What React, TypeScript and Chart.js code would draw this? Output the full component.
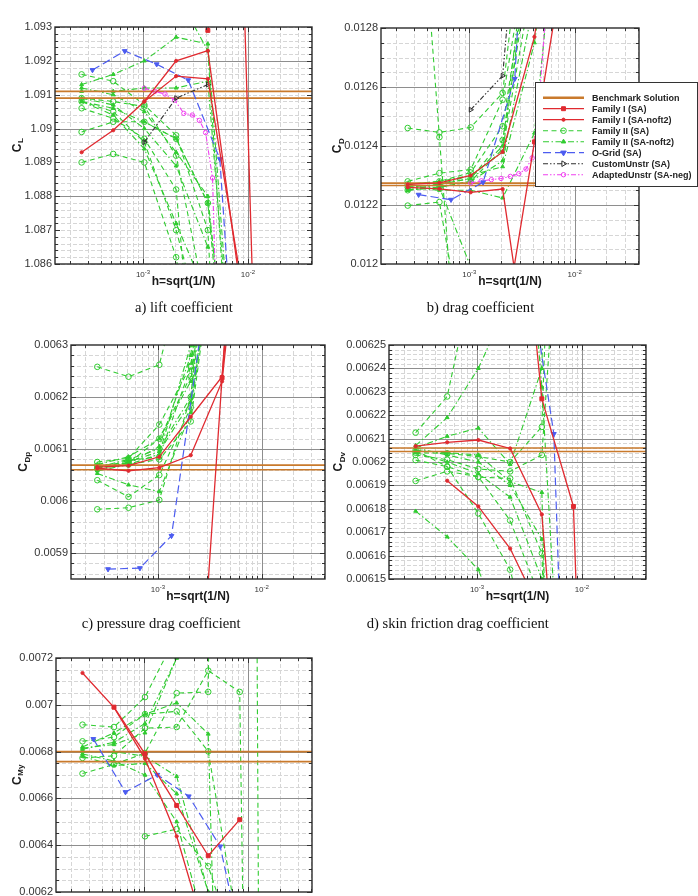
import React, { useEffect, useRef } from 'react';
import { Chart, registerables } from 'chart.js';

Chart.register(...registerables);
Chart.defaults.font.family = "'Liberation Sans', Arial, Helvetica, sans-serif";

// ---- grid levels h = sqrt(1/N) ----
const H_FAM = [2.6e-4, 5.2e-4, 1.03e-3, 2.07e-3, 4.15e-3, 8.3e-3, 1.66e-2];
const H_OGRID = [3.3e-4, 6.7e-4, 1.35e-3, 2.7e-3, 5.4e-3, 1.08e-2];
const H_CUSTOM = [1.03e-3, 2.07e-3, 4.15e-3];
const H_ADAPTED = [1.03e-3, 1.3e-3, 1.62e-3, 2.0e-3, 2.45e-3, 2.95e-3, 3.45e-3, 3.95e-3, 4.6e-3, 5.3e-3];

const X_MIN = 1.45e-4;
const X_MAX = 0.0408;
const X_MAJOR = [1e-3, 1e-2];

type Row = (number | null)[];

// ---- lift coefficient ----
const clTicks = [1.086, 1.087, 1.088, 1.089, 1.09, 1.091, 1.092, 1.093];
const clGrid = [1.088, 1.09, 1.092];
const clBenchmark = [1.0909, 1.0911];
const clFamISA: Row[] = [[null, null, null, null, 1.0929, 1.0985, 1.067]];
const clFamINoft2: Row[] = [
  [1.0893, 1.08995, 1.0908, 1.092, 1.0923, 1.0855, null],
  [null, null, 1.0908, 1.09155, 1.09147, 1.0858, null],
];
const clFamIISA: Row[] = [
  [1.0916, 1.0914, 1.0907, 1.0898, 1.087, 1.07, null],
  [1.0909, 1.0908, 1.09065, 1.0892, 1.0845, null, null],
  [1.0906, 1.0903, 1.0897, 1.0882, 1.078, null, null],
  [1.0899, 1.0902, 1.0902, 1.0897, 1.0878, 1.08, null],
  [1.089, 1.08925, 1.089, 1.0862, 1.08, null, null],
  [1.0908, 1.0905, 1.0896, 1.087, 1.0835, null, null],
];
const clFamIINoft2: Row[] = [
  [1.0913, 1.0916, 1.092, 1.0927, 1.0925, 1.08, null],
  [1.0911, 1.0911, 1.0912, 1.0912, 1.0914, 1.08, null],
  [1.0908, 1.0906, 1.0902, 1.0897, 1.0878, 1.078, null],
  [1.0909, 1.0907, 1.09, 1.0889, 1.0865, null, null],
  [1.0908, 1.0904, 1.0894, 1.0872, 1.085, null, null],
  [1.0912, 1.091, 1.0905, 1.0893, 1.088, 1.079, null],
  [null, null, null, 1.094, 1.0923, 1.078, null],
];
const clOGrid: Row = [1.09173, 1.09229, 1.0919, 1.09143, 1.0891, 1.0752];
const clCustom: Row = [1.0896, 1.0909, 1.0913];
const clAdapted: Row = [1.09119, 1.0911, 1.09102, 1.09084, 1.09045, 1.0904, 1.09024, 1.08988, 1.08854, 1.0817];

// ---- drag coefficient ----
const cdTicks = [0.012, 0.0122, 0.0124, 0.0126, 0.0128];
const cdBenchmark = [0.012266, 0.012274];
const cdFamISA: Row[] = [[null, null, null, 0.01175, 0.012414, 0.01308, null]];
const cdFamINoft2: Row[] = [
  [0.01227, 0.012275, 0.0123, 0.01238, 0.01277, 0.0135, null],
  [0.01226, 0.012255, 0.012243, 0.012254, 0.01152, null, null],
];
const cdFamIISA: Row[] = [
  [0.012461, 0.012446, 0.012463, 0.01258, 0.0135, null, null],
  [0.012198, 0.01221, 0.0116, null, null, null, null],
  [0.01385, 0.01243, 0.01101, null, null, null, null],
  [0.01228, 0.012308, 0.01232, 0.012557, 0.0132, null, null],
  [0.01226, 0.01227, 0.01229, 0.01242, 0.0131, null, null],
  [0.01225, 0.01226, 0.01228, 0.01239, 0.013, null, null],
  [0.01227, 0.01228, 0.01231, 0.012467, 0.01315, null, null],
];
const cdFamIINoft2: Row[] = [
  [0.01226, 0.01226, 0.01199, null, null, null, null],
  [0.01226, 0.01225, 0.01225, 0.012224, 0.012444, 0.0135, null],
  [0.01225, 0.01226, 0.01228, 0.01235, 0.0129, null, null],
  [0.01226, 0.01227, 0.0123, 0.01233, 0.01275, 0.0135, null],
  [0.01227, 0.01228, 0.0123, 0.01238, 0.0132, null, null],
  [0.01225, 0.01227, 0.01229, 0.0124, 0.0133, null, null],
];
const cdOGrid: Row = [0.012235, 0.012218, 0.012277, 0.012628, 0.01459, null];
const cdCustom: Row = [0.012523, 0.012638, 0.01386];
const cdAdapted: Row = [0.012275, 0.012282, 0.012286, 0.01229, 0.012297, 0.012306, 0.012322, 0.01236, 0.01255, 0.01285];

// ---- pressure drag coefficient ----
const cdpTicks = [0.0059, 0.006, 0.0061, 0.0062, 0.0063];
const cdpBenchmark = [0.00606, 0.006069];
const cdpFamISA: Row[] = [[null, null, null, 0.00535, 0.006237, 0.00712, null]];
const cdpFamINoft2: Row[] = [
  [0.006065, 0.006068, 0.006085, 0.006162, 0.006239, 0.00695, null],
  [0.006063, 0.006058, 0.006064, 0.006088, 0.00623, 0.0068, null],
];
const cdpFamIISA: Row[] = [
  [0.006258, 0.006239, 0.006262, 0.0065, null, null, null],
  [0.005984, 0.005987, 0.006002, 0.0062, 0.0068, null, null],
  [0.00604, 0.006008, 0.00605, 0.00618, 0.0066, null, null],
  [0.006075, 0.006082, 0.006147, 0.00626, 0.0067, null, null],
  [0.006068, 0.006073, 0.00612, 0.00624, 0.0067, null, null],
  [0.006062, 0.006078, 0.006085, 0.006258, 0.0068, null, null],
  [0.006063, 0.00607, 0.00608, 0.006153, 0.0066, null, null],
];
const cdpFamIINoft2: Row[] = [
  [0.006053, 0.006031, 0.006018, 0.00617, 0.0066, null, null],
  [0.006065, 0.00608, 0.0061, 0.0062, 0.0067, null, null],
  [0.00606, 0.006075, 0.006095, 0.00619, 0.0066, null, null],
  [0.00607, 0.006085, 0.00612, 0.00623, 0.0067, null, null],
  [0.006058, 0.00607, 0.00609, 0.0063, 0.0069, null, null],
  [0.006066, 0.006072, 0.006105, 0.00628, 0.0068, null, null],
];
const cdpOGrid: Row = [0.005869, 0.005871, 0.005933, 0.00635, 0.0072, null];

// ---- skin friction drag coefficient ----
const cdvTicks = [0.00615, 0.00616, 0.00617, 0.00618, 0.00619, 0.0062, 0.00621, 0.00622, 0.00623, 0.00624, 0.00625];
const cdvBenchmark = [0.0062045, 0.006206];
const cdvFamISA: Row[] = [[null, null, null, 0.006363, 0.006227, 0.006181, 0.00578]];
const cdvFamINoft2: Row[] = [
  [0.0062068, 0.0062084, 0.0062094, 0.0062058, 0.0061776, 0.00601, null],
  [null, 0.006192, 0.006181, 0.006163, 0.006135, null, null],
];
const cdvFamIISA: Row[] = [
  [0.0062125, 0.006228, 0.00629, null, null, null, null],
  [0.006204, 0.0062037, 0.0062023, 0.0062, 0.006215, 0.0066, null],
  [0.0062008, 0.006198, 0.0061935, 0.006193, 0.006161, 0.0058, null],
  [0.0061919, 0.006196, 0.0061937, 0.006175, 0.00614, null, null],
  [0.006205, 0.006198, 0.006178, 0.006154, 0.0061, null, null],
  [0.006203, 0.006201, 0.006197, 0.006196, 0.006203, 0.0064, null],
];
const cdvFamIINoft2: Row[] = [
  [0.006179, 0.006168, 0.006154, 0.00612, null, null, null],
  [0.006207, 0.006219, 0.00624, 0.00627, null, null, null],
  [0.006206, 0.006211, 0.0062145, 0.006199, 0.00624, 0.0068, null],
  [0.006205, 0.006204, 0.006203, 0.0061916, 0.006187, 0.0057, null],
  [0.006204, 0.0062, 0.006195, 0.006185, 0.00615, null, null],
  [0.006206, 0.006203, 0.0062, 0.00619, 0.006167, 0.0059, null],
  [null, null, null, 0.0064, 0.006232, 0.006, null],
];
const cdvOGrid: Row = [null, null, null, 0.0063, 0.006212, 0.00581];

// ---- pitching moment coefficient ----
const cmyTicks = [0.0062, 0.0064, 0.0066, 0.0068, 0.007, 0.0072];
const cmyBenchmark = [0.006757, 0.0068];
const cmyFamISA: Row[] = [[null, 0.00699, 0.00679, 0.00657, 0.006355, 0.006509, null]];
const cmyFamINoft2: Row[] = [[0.007136, 0.006989, 0.00677, 0.006438, 0.00598, null, null]];
const cmyFamIISA: Row[] = [
  [0.006915, 0.006905, 0.007033, 0.0073, null, null, null],
  [0.006844, 0.006862, 0.00696, 0.006972, 0.006801, 0.006, null],
  [0.006773, 0.006782, 0.0069, 0.006905, 0.007146, 0.007055, -0.002],
  [null, null, 0.006438, 0.006469, 0.00631, 0.0059, null],
  [0.006706, 0.006745, 0.006794, 0.00705, 0.007055, 0.02134, -0.00418],
];
const cmyFamIINoft2: Row[] = [
  [0.00682, 0.00688, 0.00696, 0.007008, 0.006875, 0.0021, null],
  [0.00681, 0.00684, 0.00692, 0.0072, 0.0076, null, null],
  [0.0068, 0.0068, 0.00678, 0.006694, 0.0062, null, null],
  [0.00679, 0.00676, 0.0067, 0.0065, 0.006, null, null],
  [0.00678, 0.00674, 0.00675, 0.00662, 0.0062, null, null],
  [0.006815, 0.00683, 0.00688, 0.0072, 0.0078, null, null],
];
const cmyOGrid: Row = [0.006854, 0.006627, 0.006701, 0.006609, 0.006395, 0.00577];

// ---- styles ----
const RED = '#e02a30';
const GREEN = '#30cc30';
const BLUE = '#4c5cf0';
const MAGENTA = '#f040f0';
const ORANGE = '#c97a2c';
const DARK = '#303030';
const FONT = "'Liberation Sans', Arial, Helvetica, sans-serif";

type Kind = 'famISA' | 'famINoft2' | 'famIISA' | 'famIINoft2' | 'oGrid' | 'custom' | 'adapted';

interface SeriesStyle {
  label: string;
  color: string;
  dash: number[];
  point: 'circle' | 'rect' | 'triangle';
  radius: number;
  rot: number;
  fill: string;
  width: number;
}

const STYLE: Record<Kind, SeriesStyle> = {
  famISA: { label: 'Family I (SA)', color: RED, dash: [], point: 'rect', radius: 2.8, rot: 0, fill: RED, width: 1.3 },
  famINoft2: { label: 'Family I (SA-noft2)', color: RED, dash: [], point: 'circle', radius: 1.6, rot: 0, fill: RED, width: 1.3 },
  famIISA: { label: 'Family II (SA)', color: GREEN, dash: [5, 3.5], point: 'circle', radius: 2.8, rot: 0, fill: 'transparent', width: 1.1 },
  famIINoft2: { label: 'Family II (SA-noft2)', color: GREEN, dash: [6, 2.5, 1.5, 2.5], point: 'triangle', radius: 2.2, rot: 0, fill: GREEN, width: 1.1 },
  oGrid: { label: 'O-Grid (SA)', color: BLUE, dash: [8, 4], point: 'triangle', radius: 2.8, rot: 180, fill: BLUE, width: 1.2 },
  custom: { label: 'CustomUnstr (SA)', color: DARK, dash: [5, 2, 1.5, 2, 1.5, 2], point: 'triangle', radius: 2.8, rot: 90, fill: 'transparent', width: 1.1 },
  adapted: { label: 'AdaptedUnstr (SA-neg)', color: MAGENTA, dash: [5, 2, 1.5, 2, 1.5, 2], point: 'circle', radius: 2.2, rot: 0, fill: 'transparent', width: 1.1 },
};

interface Rect { left: number; top: number; width: number; height: number }
interface Area { left: number; top: number; right: number; bottom: number }

interface PanelSpec {
  box: Rect;
  plot: Area;
  yMin: number;
  yMax: number;
  yTicks: number[];
  yGrid?: number[];
  yMinorStep: number;
  ySub: string;
  titleOffset: number;
  bench: number[];
  famISA: Row[];
  famINoft2: Row[];
  famIISA: Row[];
  famIINoft2: Row[];
  oGrid?: Row;
  custom?: Row;
  adapted?: Row;
  legend?: boolean;
}

const PANELS: PanelSpec[] = [
  {
    box: { left: 0, top: 0, width: 330, height: 300 },
    plot: { left: 55, top: 27, right: 312, bottom: 264 },
    yMin: 1.086, yMax: 1.093, yTicks: clTicks, yGrid: clGrid, yMinorStep: 0.0002, ySub: 'L', titleOffset: 38.7,
    bench: clBenchmark, famISA: clFamISA, famINoft2: clFamINoft2, famIISA: clFamIISA, famIINoft2: clFamIINoft2,
    oGrid: clOGrid, custom: clCustom, adapted: clAdapted,
  },
  {
    box: { left: 330, top: 0, width: 368, height: 300 },
    plot: { left: 381, top: 28, right: 639, bottom: 264 },
    yMin: 0.012, yMax: 0.0128, yTicks: cdTicks, yMinorStep: 0.00005, ySub: 'D', titleOffset: 44.5,
    bench: cdBenchmark, famISA: cdFamISA, famINoft2: cdFamINoft2, famIISA: cdFamIISA, famIINoft2: cdFamIINoft2,
    oGrid: cdOGrid, custom: cdCustom, adapted: cdAdapted, legend: true,
  },
  {
    box: { left: 0, top: 320, width: 330, height: 300 },
    plot: { left: 71, top: 345, right: 327, bottom: 579 },
    yMin: 0.00585, yMax: 0.0063, yTicks: cdpTicks, yMinorStep: 0.00002, ySub: 'Dp', titleOffset: 48.5,
    bench: cdpBenchmark, famISA: cdpFamISA, famINoft2: cdpFamINoft2, famIISA: cdpFamIISA, famIINoft2: cdpFamIINoft2,
    oGrid: cdpOGrid,
  },
  {
    box: { left: 330, top: 320, width: 368, height: 300 },
    plot: { left: 389, top: 345, right: 646, bottom: 579 },
    yMin: 0.00615, yMax: 0.00625, yTicks: cdvTicks, yMinorStep: 0.000002, ySub: 'Dv', titleOffset: 51,
    bench: cdvBenchmark, famISA: cdvFamISA, famINoft2: cdvFamINoft2, famIISA: cdvFamIISA, famIINoft2: cdvFamIINoft2,
    oGrid: cdvOGrid,
  },
  {
    box: { left: 0, top: 640, width: 330, height: 290 },
    plot: { left: 56, top: 658, right: 312, bottom: 892 },
    yMin: 0.0062, yMax: 0.0072, yTicks: cmyTicks, yMinorStep: 0.00005, ySub: 'My', titleOffset: 39.7,
    bench: cmyBenchmark, famISA: cmyFamISA, famINoft2: cmyFamINoft2, famIISA: cmyFamIISA, famIINoft2: cmyFamIINoft2,
    oGrid: cmyOGrid,
  },
];

const CAPTIONS = [
  { text: 'a) lift coefficient', left: 135, top: 299 },
  { text: 'b) drag coefficient', left: 426.7, top: 299 },
  { text: 'c) pressure drag coefficient', left: 81.7, top: 615 },
  { text: 'd) skin friction drag coefficient', left: 366.7, top: 615 },
];

function series(kind: Kind, h: number[], vals: Row) {
  const st = STYLE[kind];
  const data: { x: number; y: number }[] = [];
  vals.forEach((v, i) => {
    if (v !== null) data.push({ x: h[i], y: v });
  });
  return {
    data,
    borderColor: st.color,
    borderWidth: st.width,
    borderDash: st.dash,
    pointStyle: st.point,
    pointRadius: st.radius,
    pointRotation: st.rot,
    pointBackgroundColor: st.fill,
    pointBorderColor: st.color,
    pointBorderWidth: 1,
    fill: false,
    tension: 0,
  };
}

function benchSeries(y: number) {
  return {
    data: [{ x: X_MIN, y }, { x: X_MAX, y }],
    borderColor: ORANGE,
    borderWidth: 1.6,
    pointRadius: 0,
    fill: false,
  };
}

function xMinorValues(): number[] {
  const out: number[] = [];
  for (let e = -4; e <= -2; e++) {
    for (let k = 2; k <= 9; k++) {
      const v = k * Math.pow(10, e);
      if (v > X_MIN && v < X_MAX) out.push(v);
    }
  }
  return out;
}

// positions on the minor step, excluding the given list
function yStepValues(spec: PanelSpec, exclude: number[]): number[] {
  const out: number[] = [];
  const base = spec.yTicks[0];
  const step = spec.yMinorStep;
  const n0 = Math.ceil((spec.yMin - base) / step - 1e-6);
  const n1 = Math.floor((spec.yMax - base) / step + 1e-6);
  for (let i = n0; i <= n1; i++) {
    const v = base + i * step;
    if (exclude.some((t) => Math.abs(t - v) < step * 0.1)) continue;
    out.push(v);
  }
  return out;
}

const snap = (p: number) => Math.round(p) + 0.5;

function drawMarker(ctx: CanvasRenderingContext2D, st: SeriesStyle, x: number, y: number) {
  ctx.save();
  ctx.setLineDash([]);
  ctx.lineWidth = 1;
  ctx.strokeStyle = st.color;
  ctx.fillStyle = st.fill;
  const r = st.radius;
  ctx.beginPath();
  if (st.point === 'circle') {
    ctx.arc(x, y, r, 0, Math.PI * 2);
  } else if (st.point === 'rect') {
    const s = Math.SQRT1_2 * r;
    ctx.rect(x - s, y - s, 2 * s, 2 * s);
  } else {
    const rot = (st.rot * Math.PI) / 180;
    for (let i = 0; i < 3; i++) {
      const a = rot + (i * 2 * Math.PI) / 3;
      const px = x + Math.sin(a) * r * 1.15;
      const py = y - Math.cos(a) * r * 1.15;
      if (i === 0) ctx.moveTo(px, py);
      else ctx.lineTo(px, py);
    }
    ctx.closePath();
  }
  if (st.fill !== 'transparent') ctx.fill();
  ctx.stroke();
  ctx.restore();
}

function makeDecor(spec: PanelSpec) {
  const gridMajor = spec.yGrid ?? spec.yTicks;
  return {
    id: 'decor',
    beforeDatasetsDraw(chart: Chart) {
      const { ctx, chartArea } = chart;
      const { left, right, top, bottom } = chartArea;
      const xs = chart.scales.x;
      const ys = chart.scales.y;
      ctx.save();
      // light dashed minor grid
      ctx.lineWidth = 1;
      ctx.strokeStyle = '#d6d6d6';
      ctx.setLineDash([4, 2]);
      ctx.beginPath();
      for (const v of xMinorValues()) {
        const p = snap(xs.getPixelForValue(v));
        ctx.moveTo(p, top);
        ctx.lineTo(p, bottom);
      }
      for (const v of yStepValues(spec, gridMajor)) {
        const p = snap(ys.getPixelForValue(v));
        ctx.moveTo(left, p);
        ctx.lineTo(right, p);
      }
      ctx.stroke();
      // solid major grid
      ctx.setLineDash([]);
      ctx.strokeStyle = '#8e8e8e';
      ctx.lineWidth = 1;
      ctx.beginPath();
      for (const v of X_MAJOR) {
        const p = snap(xs.getPixelForValue(v));
        ctx.moveTo(p, top);
        ctx.lineTo(p, bottom);
      }
      for (const v of gridMajor) {
        const p = snap(ys.getPixelForValue(v));
        if (p < top + 1 || p > bottom - 1) continue;
        ctx.moveTo(left, p);
        ctx.lineTo(right, p);
      }
      ctx.stroke();
      ctx.restore();
    },
    afterDatasetsDraw(chart: Chart) {
      const { ctx, chartArea } = chart;
      const { left, right, top, bottom } = chartArea;
      const xs = chart.scales.x;
      const ys = chart.scales.y;
      ctx.save();
      ctx.setLineDash([]);

      // inward tick marks on all four sides
      ctx.strokeStyle = '#333';
      ctx.lineWidth = 1;
      ctx.beginPath();
      const yTick = (v: number, len: number) => {
        const p = snap(ys.getPixelForValue(v));
        ctx.moveTo(left, p);
        ctx.lineTo(left + len, p);
        ctx.moveTo(right, p);
        ctx.lineTo(right - len, p);
      };
      const xTick = (v: number, len: number) => {
        const p = snap(xs.getPixelForValue(v));
        ctx.moveTo(p, bottom);
        ctx.lineTo(p, bottom - len);
        ctx.moveTo(p, top);
        ctx.lineTo(p, top + len);
      };
      spec.yTicks.forEach((v) => yTick(v, 5));
      yStepValues(spec, spec.yTicks).forEach((v) => yTick(v, 3));
      X_MAJOR.forEach((v) => xTick(v, 5));
      xMinorValues().forEach((v) => xTick(v, 3));
      ctx.stroke();

      // plot frame
      ctx.strokeStyle = '#2b2b2b';
      ctx.lineWidth = 1.4;
      ctx.strokeRect(left, top, right - left, bottom - top);

      // x tick labels with exponents
      ctx.fillStyle = '#333';
      ctx.textAlign = 'left';
      ctx.textBaseline = 'alphabetic';
      for (const v of X_MAJOR) {
        const e = Math.round(Math.log10(v));
        const p = xs.getPixelForValue(v);
        ctx.font = `8px ${FONT}`;
        const w1 = ctx.measureText('10').width;
        ctx.font = `6px ${FONT}`;
        const sup = String(e);
        const w2 = ctx.measureText(sup).width;
        const x0 = p - (w1 + w2) / 2;
        ctx.font = `8px ${FONT}`;
        ctx.fillText('10', x0, bottom + 13);
        ctx.font = `6px ${FONT}`;
        ctx.fillText(sup, x0 + w1, bottom + 9.5);
      }

      // x title
      ctx.fillStyle = '#1a1a1a';
      ctx.font = `bold 12px ${FONT}`;
      ctx.textAlign = 'center';
      ctx.textBaseline = 'middle';
      ctx.fillText('h=sqrt(1/N)', (left + right) / 2, bottom + 18);

      // y title with subscript
      ctx.save();
      ctx.translate(left - spec.titleOffset, (top + bottom) / 2);
      ctx.rotate(-Math.PI / 2);
      ctx.textAlign = 'left';
      ctx.textBaseline = 'alphabetic';
      ctx.font = `bold 12px ${FONT}`;
      const wC = ctx.measureText('C').width;
      ctx.font = `bold 8px ${FONT}`;
      const wS = ctx.measureText(spec.ySub).width;
      const sx = -(wC + wS) / 2;
      ctx.font = `bold 12px ${FONT}`;
      ctx.fillText('C', sx, 4.3);
      ctx.font = `bold 8px ${FONT}`;
      ctx.fillText(spec.ySub, sx + wC + 0.5, 7);
      ctx.restore();

      // legend box
      if (spec.legend) {
        const bx = left + 154;
        const by = top + 54;
        const bw = 162;
        const bh = 104;
        ctx.fillStyle = '#fff';
        ctx.fillRect(bx, by, bw, bh);
        ctx.strokeStyle = '#333';
        ctx.lineWidth = 1;
        ctx.strokeRect(bx + 0.5, by + 0.5, bw, bh);
        const kinds: (Kind | 'bench')[] = ['bench', 'famISA', 'famINoft2', 'famIISA', 'famIINoft2', 'oGrid', 'custom', 'adapted'];
        kinds.forEach((k, i) => {
          const y = by + 15.7 + i * 11;
          ctx.save();
          ctx.beginPath();
          if (k === 'bench') {
            ctx.strokeStyle = ORANGE;
            ctx.lineWidth = 2.4;
            ctx.setLineDash([]);
          } else {
            const st = STYLE[k];
            ctx.strokeStyle = st.color;
            ctx.lineWidth = st.width;
            ctx.setLineDash(st.dash);
          }
          ctx.moveTo(bx + 8, y);
          ctx.lineTo(bx + 49, y);
          ctx.stroke();
          ctx.restore();
          if (k !== 'bench') drawMarker(ctx, STYLE[k], bx + 28.5, y);
          ctx.fillStyle = '#222';
          ctx.font = `bold 9px ${FONT}`;
          ctx.textAlign = 'left';
          ctx.textBaseline = 'middle';
          ctx.fillText(k === 'bench' ? 'Benchmark Solution' : STYLE[k].label, bx + 57, y + 0.5);
        });
      }
      ctx.restore();
    },
  };
}

function buildConfig(spec: PanelSpec): any {
  const datasets: any[] = [];
  spec.famISA.forEach((r) => datasets.push(series('famISA', H_FAM, r)));
  spec.famINoft2.forEach((r) => datasets.push(series('famINoft2', H_FAM, r)));
  if (spec.oGrid) datasets.push(series('oGrid', H_OGRID, spec.oGrid));
  if (spec.custom) datasets.push(series('custom', H_CUSTOM, spec.custom));
  if (spec.adapted) datasets.push(series('adapted', H_ADAPTED, spec.adapted));
  spec.bench.forEach((b) => datasets.push(benchSeries(b)));
  spec.famIINoft2.forEach((r) => datasets.push(series('famIINoft2', H_FAM, r)));
  spec.famIISA.forEach((r) => datasets.push(series('famIISA', H_FAM, r)));

  const yAxisWidth = spec.plot.left - spec.box.left;
  const padTop = spec.plot.top - spec.box.top;
  const padRight = spec.box.left + spec.box.width - spec.plot.right;
  const xAxisHeight = spec.box.top + spec.box.height - spec.plot.bottom;

  return {
    type: 'line',
    data: { datasets },
    options: {
      animation: false,
      responsive: false,
      events: [],
      layout: { padding: { top: padTop, right: padRight, bottom: 0, left: 0 } },
      plugins: { legend: { display: false }, tooltip: { enabled: false } },
      scales: {
        x: {
          type: 'logarithmic',
          min: X_MIN,
          max: X_MAX,
          grid: { display: false, drawTicks: false },
          border: { display: false },
          ticks: { display: false },
          afterFit: (s: any) => {
            s.height = xAxisHeight;
          },
        },
        y: {
          type: 'linear',
          min: spec.yMin,
          max: spec.yMax,
          grid: { display: false, drawTicks: false },
          border: { display: false },
          ticks: {
            color: '#333',
            padding: 3,
            font: { size: 11 },
            callback: (v: number) => String(Number(Number(v).toPrecision(6))),
          },
          afterBuildTicks: (s: any) => {
            s.ticks = spec.yTicks.map((v) => ({ value: v }));
          },
          afterFit: (s: any) => {
            s.width = yAxisWidth;
          },
        },
      },
    },
    plugins: [makeDecor(spec)],
  };
}

function Panel({ spec }: { spec: PanelSpec }) {
  const ref = useRef<HTMLCanvasElement>(null);
  useEffect(() => {
    if (!ref.current) return;
    const chart = new Chart(ref.current, buildConfig(spec));
    return () => chart.destroy();
  }, [spec]);
  return (
    <canvas
      ref={ref}
      width={spec.box.width}
      height={spec.box.height}
      style={{
        position: 'absolute',
        left: spec.box.left,
        top: spec.box.top,
        width: spec.box.width,
        height: spec.box.height,
      }}
    />
  );
}

export default function App() {
  return (
    <div
      style={{
        position: 'fixed',
        left: 0,
        top: 0,
        width: 698,
        height: 896,
        overflow: 'hidden',
        background: '#fff',
      }}
    >
      {PANELS.map((p, i) => (
        <Panel key={i} spec={p} />
      ))}
      {CAPTIONS.map((c) => (
        <div
          key={c.text}
          style={{
            position: 'absolute',
            left: c.left,
            top: c.top,
            font: "14.6px 'Liberation Serif', 'Times New Roman', serif",
            lineHeight: '16px',
            color: '#111',
            whiteSpace: 'nowrap',
          }}
        >
          {c.text}
        </div>
      ))}
    </div>
  );
}
